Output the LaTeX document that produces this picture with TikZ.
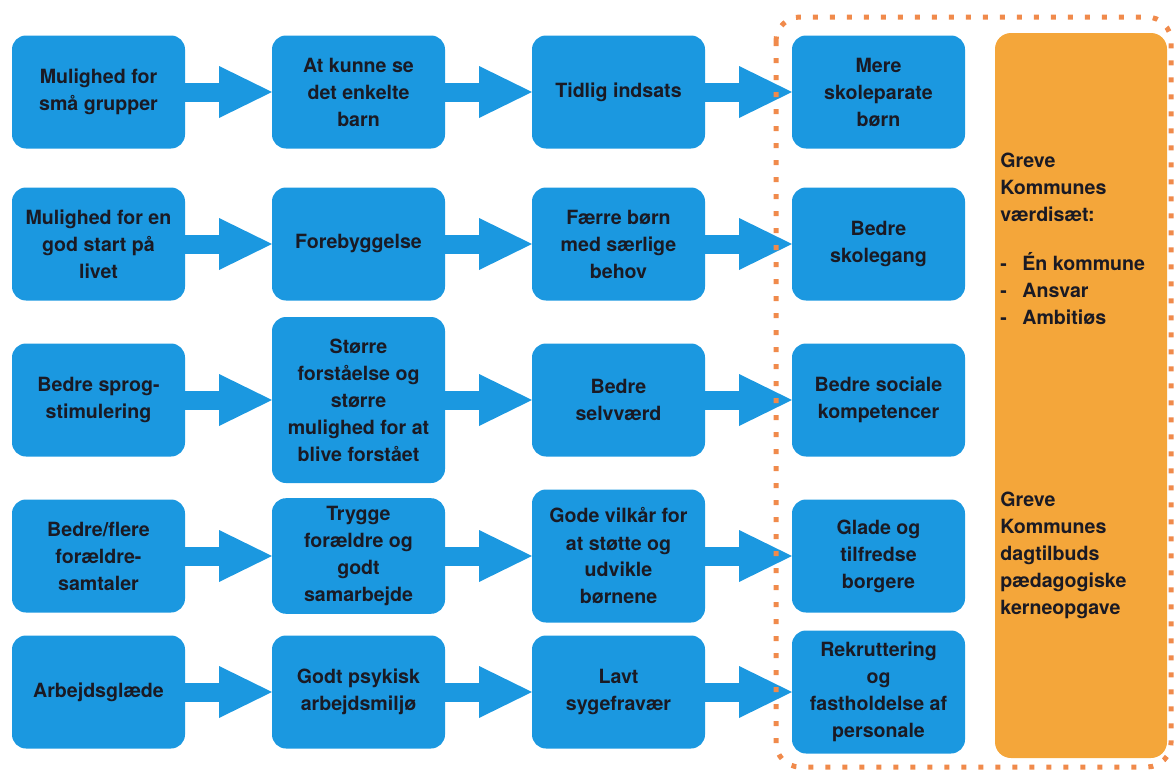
\documentclass[tikz,border=0pt]{standalone}
\usepackage{fontspec}
\setmainfont{TeX Gyre Heros}
\usetikzlibrary{positioning,arrows.meta}

\definecolor{boxblue}{HTML}{1B98E0}
\definecolor{corefill}{HTML}{F4A63A}
\definecolor{dotorange}{HTML}{F08A4B}
\definecolor{ink}{HTML}{1A1A24}

\begin{document}
\begin{tikzpicture}[x=0.5pt,y=-0.5pt,node distance=43.5pt,
  box/.style={rounded corners=7pt, fill=boxblue, text=ink, align=center,
    minimum width=86.5pt, minimum height=56.5pt, inner sep=4pt, outer sep=0pt,
    font=\fontsize{9.8}{13.5}\selectfont\bfseries},
  flow/.style={draw=boxblue, line width=9.5pt,
    -{Triangle[width=26pt,length=26.5pt,line width=0pt]}},
  core/.style={rounded corners=8pt, fill=corefill, minimum width=86pt,
    minimum height=362.5pt, outer sep=0pt},
  note/.style={text=ink, align=left, inner sep=0pt, anchor=west,
    font=\fontsize{9.8}{13.5}\selectfont\bfseries}]
\useasboundingbox (0,0) rectangle (1175,771);

% orange column
\node[core] (core) at (1081,395.5) {};
\node[note] (vals) at (1000,239) {Greve\\Kommunes\\værdisæt:\\[11pt]\makebox[11pt][l]{-}Én kommune\\\makebox[11pt][l]{-}Ansvar\\\makebox[11pt][l]{-}Ambitiøs};
\node[note] (kerne) at (1000,555) {Greve\\Kommunes\\dagtilbuds\\pædagogiske\\kerneopgave};

% row 1
\node[box] (a1) at (98.5,92) {Mulighed for\\små grupper};
\node[box, right= of a1] (a2) {At kunne se\\det enkelte\\barn};
\node[box, right= of a2] (a3) {Tidlig indsats};
\node[box, right= of a3] (a4) {Mere\\skoleparate\\børn};
% row 2
\node[box] (b1) at (98.5,244) {Mulighed for en\\god start på\\livet};
\node[box, right= of b1] (b2) {Forebyggelse};
\node[box, right= of b2] (b3) {Færre børn\\med særlige\\behov};
\node[box, right= of b3] (b4) {Bedre\\skolegang};
% row 3
\node[box] (c1) at (98.5,400) {Bedre sprog-\\stimulering};
\node[box, right= of c1, minimum height=83pt] (c2) {Større\\forståelse og\\større\\mulighed for at\\blive forstået};
\node[box, right= of c2] (c3) {Bedre\\selvværd};
\node[box, right= of c3] (c4) {Bedre sociale\\kompetencer};
% row 4
\node[box] (d1) at (98.5,556) {Bedre/flere\\forældre-\\samtaler};
\node[box, right= of d1] (d2) {Trygge\\forældre og\\godt\\samarbejde};
\node[box, right= of d2, minimum height=66.5pt] (d3) {Gode vilkår for\\at støtte og\\udvikle\\børnene};
\node[box, right= of d3] (d4) {Glade og\\tilfredse\\borgere};
% row 5
\node[box] (e1) at (98.5,692) {Arbejdsglæde};
\node[box, right= of e1] (e2) {Godt psykisk\\arbejdsmiljø};
\node[box, right= of e2] (e3) {Lavt\\sygefravær};
\node[box, right= of e3, minimum height=61.5pt] (e4) {Rekruttering\\og\\fastholdelse af\\personale};

\foreach \r in {a,b,c,d,e}{
  \path[flow] (\r1) -- (\r2);
  \path[flow] (\r2) -- (\r3);
  \path[flow] (\r3) -- (\r4);
}

% dotted frame round the outcomes
\draw[dotorange, line width=2.5pt, dash pattern=on 2.5pt off 6pt, rounded corners=12pt]
  (776,17) rectangle (1171,767);
\end{tikzpicture}
\end{document}
